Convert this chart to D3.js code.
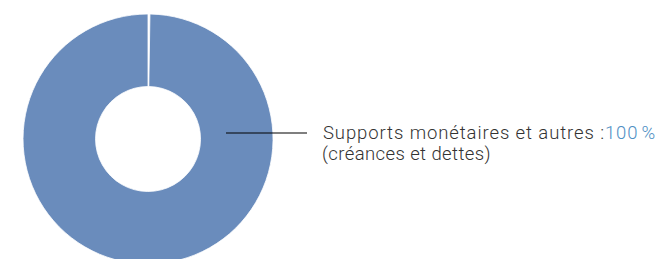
<!DOCTYPE html>
<html lang="fr">
<head>
<meta charset="utf-8">
<title>Donut</title>
<script src="https://d3js.org/d3.v7.min.js"></script>
<style>
  html, body { margin: 0; padding: 0; background: #fff; }
  svg { display: block; }
  .lbl { font-family: Roboto, "Open Sans", sans-serif; font-weight: 300; fill: #333; letter-spacing: 0.9px; }
  .pct { fill: #4f8fc4; }
</style>
</head>
<body>
<div id="chart"></div>
<script>
// slices (the first one is the thin gap at the top)
var categories = ["Autres", "Supports monétaires et autres"];
var values = [0.25, 99.75];
var colors = ["#ffffff", "#6a8cbc"];
var labelLine1 = "Supports monétaires et autres :";
var labelPct = "100\u202F%";
var labelLine2 = "(créances et dettes)";

var width = 666, height = 259;
var cx = 148, cy = 139,
    outerR = 125, innerR = 52.5;

var svg = d3.select("#chart")
    .append("svg")
    .attr("width", width)
    .attr("height", height);

var pie = d3.pie().sort(null).value(function(d) { return d; });
var arc = d3.arc().innerRadius(innerR).outerRadius(outerR);

var g = svg.append("g").attr("transform", "translate(" + cx + "," + cy + ")");

g.selectAll("path")
  .data(pie(values))
  .enter().append("path")
    .attr("d", arc)
    .attr("fill", function(d, i) { return colors[i]; })
    .attr("stroke", "#fff")
    .attr("stroke-width", 0.8);

// leader line
svg.append("line")
  .attr("x1", 226).attr("x2", 307)
  .attr("y1", 133).attr("y2", 133)
  .attr("stroke", "#000")
  .attr("stroke-width", 1.2);

var t = svg.append("text")
  .attr("class", "lbl")
  .attr("x", 323)
  .attr("y", 139)
  .style("font-size", "18.5px");
t.append("tspan").text(labelLine1);
t.append("tspan").attr("class", "pct").text(labelPct);

svg.append("text")
  .attr("class", "lbl")
  .attr("x", 322)
  .attr("y", 160)
  .style("font-size", "18.5px")
  .style("letter-spacing", "0.4px")
  .text(labelLine2);
</script>
</body>
</html>
